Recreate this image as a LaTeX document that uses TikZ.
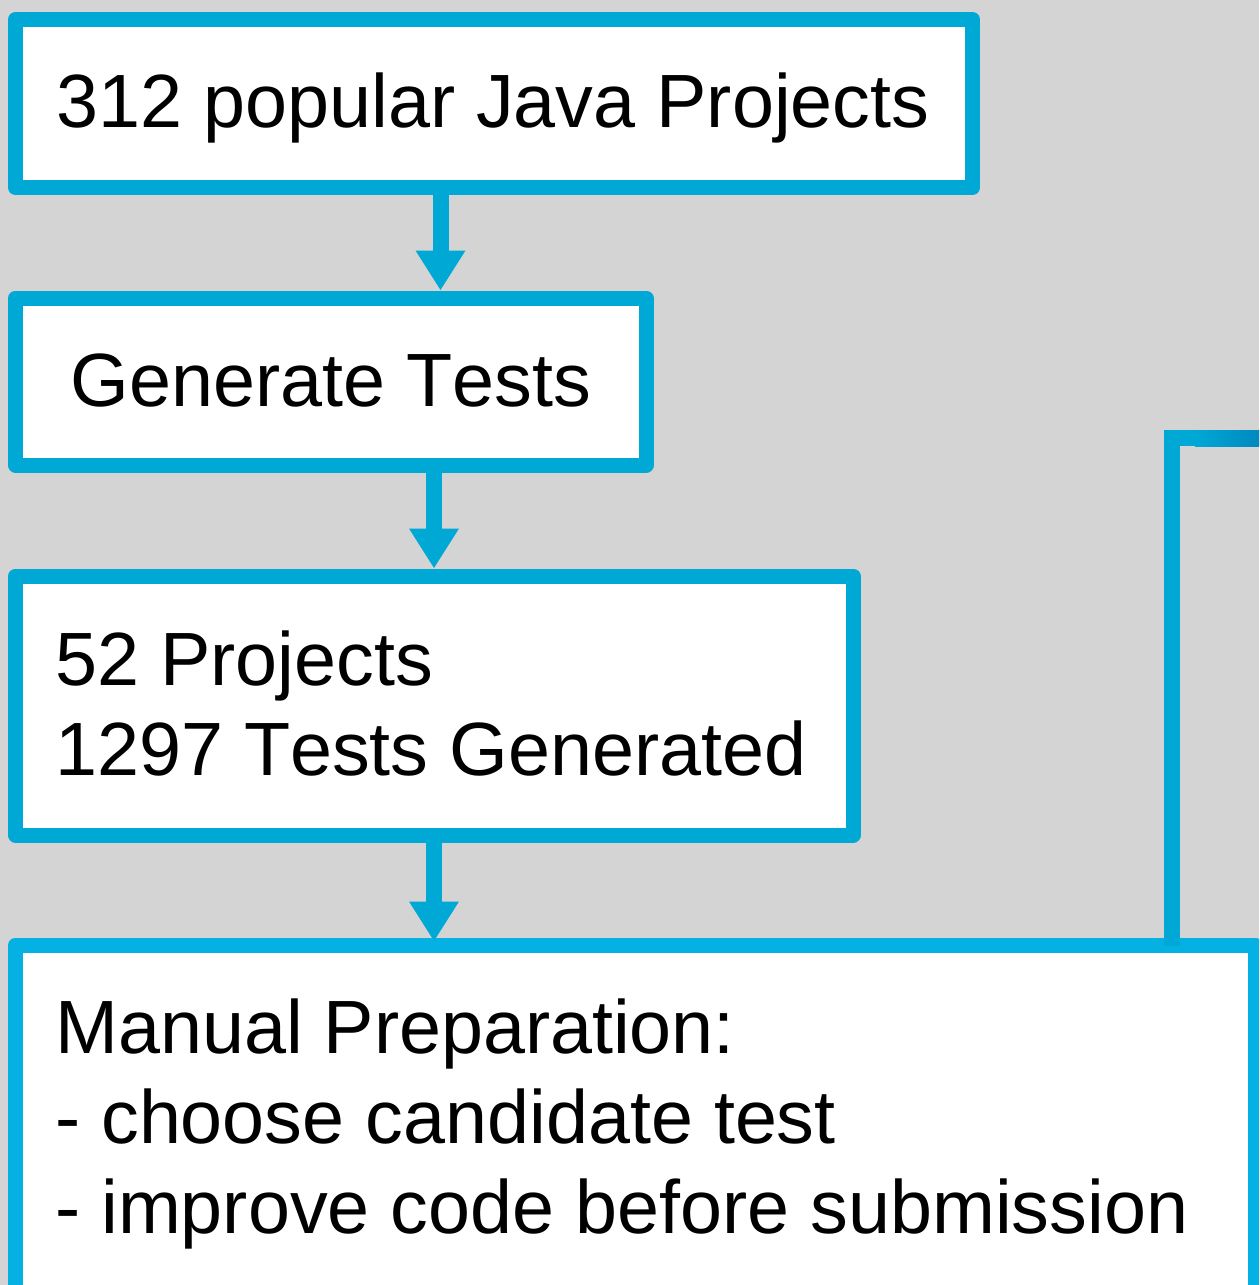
\documentclass[tikz,border=0pt]{standalone}
\usepackage{fontspec}
\setmainfont[Kerning=Off]{Liberation Sans}
\usetikzlibrary{arrows.meta}
\definecolor{bg}{RGB}{212,212,212}
\definecolor{boxblue}{RGB}{0,168,214}
\definecolor{boxblueB}{RGB}{4,177,226}
\definecolor{darkblue}{RGB}{0,136,190}
\tikzset{
  box/.style={draw=boxblue, line width=15pt, fill=white, line join=round, inner sep=0pt},
  lastbox/.style={box, draw=boxblueB},
  txt/.style={inner sep=0pt, anchor=base west, font=\fontsize{75.5}{90}\selectfont},
  txtc/.style={txt, anchor=base},
  arr/.style={draw=boxblue, line width=16pt, -{Triangle[width=47pt,length=40pt]}},
  fb/.style={draw=boxblue, line width=16pt}
}
\begin{document}
\begin{tikzpicture}[x=1pt,y=-1pt]
\fill[bg] (0,0) rectangle (1259,1285);
\clip (0,0) rectangle (1259,1285);
\node[box, minimum width=957pt, minimum height=168pt] (b1) at (494,103.5) {};
\node[box, minimum width=630.5pt, minimum height=167pt] (b2) at (330.75,381.5) {};
\node[box, minimum width=837.5pt, minimum height=259pt] (b3) at (434.25,705.5) {};
\node[lastbox, minimum width=1239.5pt, minimum height=385pt] (b4) at (635.25,1137.5) {};
\node[txtc] (t1) at (493,127) {312 popular Java Projects};
\node[txtc] (t2) at (331,406) {Generate Tests};
\node[txt] (t3a) at (55,685) {52 Projects};
\node[txt] (t3b) at (55,775) {1297 Tests Generated};
\node[txt] (t4a) at (55,1053) {Manual Preparation:};
\node[txt] (t4b) at (55,1143) {- choose candidate test};
\node[txt] (t4c) at (55,1233) {- improve code before submission};
\draw[arr] (b1.south -| 440.5,0) -- (b2.north -| 440.5,0);
\draw[arr] (b2.south -| 434,0) -- (b3.north -| 434,0);
\draw[arr] (b3.south -| 434,0) -- ([yshift=-4pt]b4.north -| 434,0);
\coordinate (fbend) at (1275,438);
\draw[fb] ([yshift=-8pt]b4.north -| 1172,0) -- (1172,438) -- (fbend);
\shade[left color=boxblue, right color=darkblue] (1195,430) rectangle (1259,446);
\end{tikzpicture}
\end{document}
